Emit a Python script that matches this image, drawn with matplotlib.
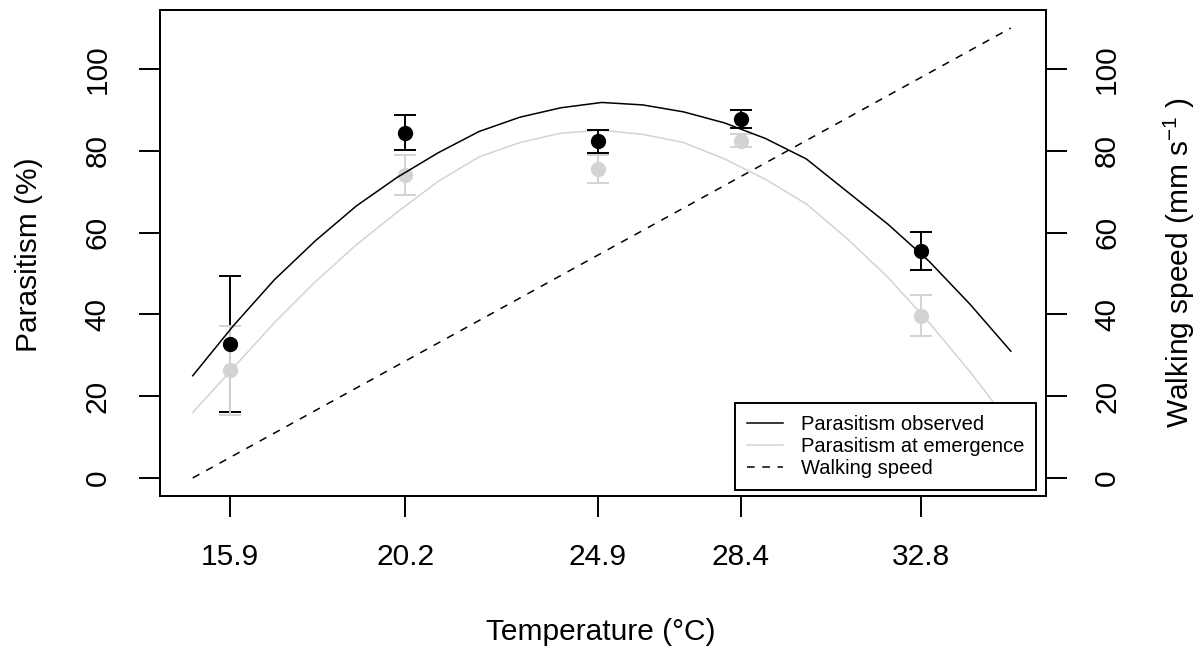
import matplotlib
matplotlib.use("Agg")
import matplotlib.pyplot as plt
from matplotlib.lines import Line2D

plt.rcParams["font.family"] = ["Liberation Sans", "DejaVu Sans"]
plt.rcParams["mathtext.fontset"] = "custom"
plt.rcParams["mathtext.rm"] = "Liberation Sans"
plt.rcParams["mathtext.it"] = "Liberation Sans:italic"

# Rearing temperatures and mean parasitism (+/- SE)
temps = [15.9, 20.2, 24.9, 28.4, 32.8]
obs_mean = [32.8, 84.4, 82.3, 87.7, 55.5]
obs_se = [16.7, 4.3, 2.8, 2.25, 4.55]
emg_mean = [26.3, 74.0, 75.5, 82.4, 39.7]
emg_se = [10.9, 4.9, 3.5, 1.6, 5.1]

# Fitted curves sampled along temperature
curve_t = [15, 16, 17, 18, 19, 20, 21, 22, 23, 24, 25,
           26, 27, 28, 29, 30, 31, 32, 33, 34, 35]
obs_fit = [25.0, 37.3, 48.5, 58.0, 66.5, 73.5, 79.5, 84.7, 88.2, 90.5, 91.8,
           91.2, 89.5, 86.8, 83.0, 78.0, 70.0, 62.0, 53.0, 42.5, 31.0]
emg_fit = [16.0, 27.0, 38.0, 48.0, 57.0, 65.0, 72.5, 78.5, 82.0, 84.3, 85.0,
           84.0, 82.0, 78.0, 73.0, 67.0, 58.5, 49.0, 38.0, 26.0, 13.0]

# Walking speed (mm/s)
speed_t = [15, 20, 25, 30, 35]
speed = [0, 27.5, 55, 82.5, 110]

yticks = [0, 20, 40, 60, 80, 100]
grey = "#d3d3d3"
fs = 21.5

fig = plt.figure(figsize=(12, 6.52), dpi=100)
ax = fig.add_axes([160 / 1200, 1 - 496 / 652, 886 / 1200, 486 / 652])
ax2 = ax.twinx()

ax.errorbar(temps, obs_mean, yerr=obs_se, fmt="o", color="black", ms=10,
            capsize=7.8, elinewidth=1.4, capthick=1.4, zorder=3)
ax.errorbar(temps, emg_mean, yerr=emg_se, fmt="o", color=grey, ms=10,
            capsize=7.8, elinewidth=1.4, capthick=1.4, zorder=3)
ax.plot(curve_t, obs_fit, color="black", lw=1.1, zorder=4)
ax.plot(curve_t, emg_fit, color=grey, lw=1.1, zorder=2)
ax2.plot(speed_t, speed, color="black", lw=1.1, dashes=(5, 5))

xlim = (14.2, 35.86)
ylim = (-4.4, 114.4)
for a in (ax, ax2):
    a.set_xlim(*xlim)
    a.set_ylim(*ylim)
    a.set_yticks(yticks)
    for s in a.spines.values():
        s.set_linewidth(1.4)

ax.set_xticks(temps)
ax.set_xticklabels([f"{t:.1f}" for t in temps])
ax.tick_params(axis="x", length=15, width=1.4, pad=19, labelsize=fs)
ax.tick_params(axis="y", length=15, width=1.4, pad=20, labelsize=fs,
               labelrotation=90)
ax2.tick_params(axis="y", length=15, width=1.4, pad=19, labelsize=fs,
                labelrotation=90)
for lab in ax.get_yticklabels():
    lab.set_va("center")
    lab.set_ha("right")
for lab in ax2.get_yticklabels():
    lab.set_va("center")
    lab.set_ha("left")

ax.set_xlabel("Temperature (°C)", fontsize=fs)
ax.xaxis.set_label_coords(0.497, -0.252)
ax.set_ylabel("Parasitism (%)", fontsize=fs)
ax.yaxis.set_label_coords(-0.132, 0.496)
ax2.set_ylabel("Walking speed (mm s$^{-1}$ )", fontsize=fs)
ax2.yaxis.set_label_coords(1.131, 0.481)

handles = [
    Line2D([], [], color="black", lw=1.1),
    Line2D([], [], color=grey, lw=1.1),
    Line2D([], [], color="black", lw=1.1, dashes=(5, 5)),
]
labels = ["Parasitism observed", "Parasitism at emergence", "Walking speed"]
leg = ax2.legend(handles, labels, loc="lower right",
                 bbox_to_anchor=(0.9887, 0.0123), borderaxespad=0,
                 fontsize=14.5, handlelength=1.8, handletextpad=0.85,
                 labelspacing=0.15, borderpad=0.6, fancybox=False,
                 framealpha=1, edgecolor="black")
leg.get_frame().set_linewidth(1.4)

fig.savefig("out.png", dpi=100)
